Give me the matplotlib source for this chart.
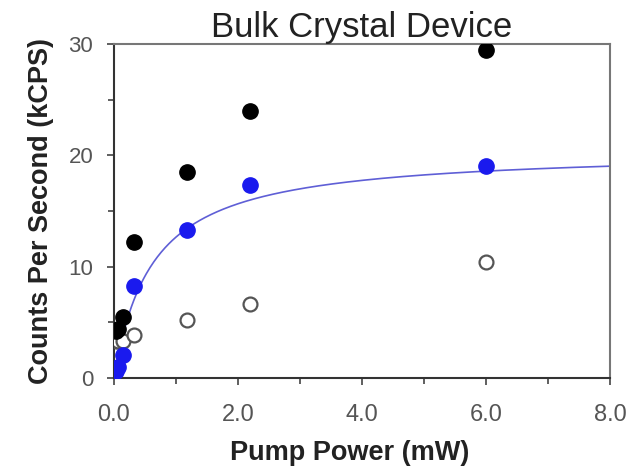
import numpy as np
import matplotlib
matplotlib.use('Agg')
import matplotlib.pyplot as plt
from matplotlib.ticker import MultipleLocator, FormatStrFormatter

plt.rcParams['font.family'] = ['Liberation Sans', 'DejaVu Sans']

# pump power (mW)
potencia = [0.03, 0.07, 0.14, 0.33, 1.18, 2.2, 6.0]
# total counts (kCPS) - black dots
total = [4.2, 4.4, 5.45, 12.2, 18.5, 24.0, 29.5]
# signal counts (kCPS) - blue dots
sinal = [0.6, 1.0, 2.1, 8.3, 13.3, 17.3, 19.0]
# background counts (kCPS) - open circles
fundo = [3.3, 3.3, 3.3, 3.9, 5.2, 6.65, 10.45]

# saturation fit y = a*x/(x+b)
fit_a = 20.5
fit_b = 0.62

fig = plt.figure(figsize=(6.29, 4.67), dpi=100)
ax = fig.add_axes([0.1812, 0.1906, 0.7886, 0.7152])

xf = np.linspace(0.0, 8.0, 400)
ax.plot(xf, fit_a * xf / (xf + fit_b), color='#5f5fd6', lw=1.2, zorder=2)

ax.plot(potencia, fundo, 'o', ms=10, mfc='white', mec='#555555', mew=1.6, zorder=3)
ax.plot(potencia, total, 'o', ms=11, color='black', zorder=4)
ax.plot(potencia, sinal, 'o', ms=11, color='#1a1aee', zorder=5)

ax.set_xlim(0, 8)
ax.set_ylim(0, 30)
ax.xaxis.set_major_locator(MultipleLocator(2))
ax.xaxis.set_minor_locator(MultipleLocator(1))
ax.yaxis.set_major_locator(MultipleLocator(10))
ax.yaxis.set_minor_locator(MultipleLocator(5))
ax.xaxis.set_major_formatter(FormatStrFormatter('%.1f'))

ax.tick_params(which='both', direction='out', colors='#444444', labelcolor='#555555',
               top=False, right=False)
ax.tick_params(which='major', length=5, width=1.2)
ax.tick_params(which='minor', length=4, width=1.2)
ax.tick_params(axis='x', labelsize=17, pad=14)
ax.tick_params(axis='y', labelsize=16, pad=10)

for lado in ['left', 'bottom']:
    ax.spines[lado].set_color('#333333')
    ax.spines[lado].set_linewidth(1.5)
for lado in ['top', 'right']:
    ax.spines[lado].set_color('#777777')
    ax.spines[lado].set_linewidth(1.5)

ax.set_title('Bulk Crystal Device', fontsize=25, color='#222222', pad=3)
ax.set_xlabel('Pump Power (mW)', fontsize=19.5, fontweight='bold', color='#222222')
ax.xaxis.set_label_coords(0.476, -0.185)
ax.set_ylabel('Counts Per Second (kCPS)', fontsize=19.5, fontweight='bold', color='#222222',
              labelpad=10)

fig.savefig('out.png', dpi=100)
